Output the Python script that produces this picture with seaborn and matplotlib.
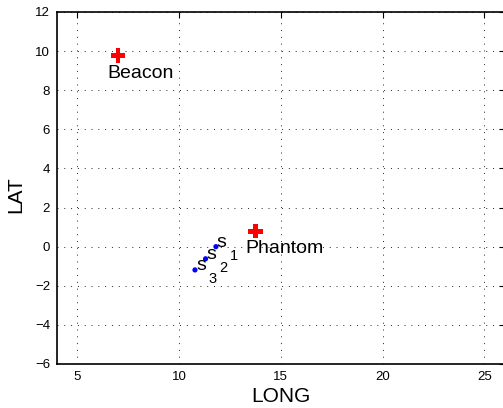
import matplotlib
matplotlib.use("Agg")
import matplotlib.pyplot as plt
import seaborn as sns
import pandas as pd

# Data
landmark_names = ["Beacon", "Phantom"]
landmark_long = [7.0, 13.75]
landmark_lat = [9.77, 0.79]

sensor_ids = ["1", "2", "3"]
sensor_long = [11.81, 11.30, 10.78]
sensor_lat = [0.0, -0.62, -1.19]

x_ticks = [5, 10, 15, 20, 25]
y_ticks = [-6, -4, -2, 0, 2, 4, 6, 8, 10, 12]

sns.set_theme(style="white")
plt.rcParams['font.family'] = ['Liberation Sans', 'DejaVu Sans']
plt.rcParams['text.color'] = 'black'
plt.rcParams['axes.labelcolor'] = 'black'
plt.rcParams['xtick.color'] = 'black'
plt.rcParams['ytick.color'] = 'black'

landmarks = pd.DataFrame({"name": landmark_names, "LONG": landmark_long, "LAT": landmark_lat})
sensors = pd.DataFrame({"id": sensor_ids, "LONG": sensor_long, "LAT": sensor_lat})

fig = plt.figure(figsize=(5.03, 4.08), dpi=100)
ax = fig.add_axes([57/503, 44/408, 447.7/503, 352/408])

sns.scatterplot(data=sensors, x="LONG", y="LAT", ax=ax, color="#0000ff",
                s=14, edgecolor="none", zorder=3)
sns.scatterplot(data=landmarks, x="LONG", y="LAT", ax=ax, color="#ff0000",
                marker="P", s=105, edgecolor="none", zorder=3)

for _, r in landmarks.iterrows():
    ax.text(r["LONG"] - 0.5, r["LAT"] - 0.9, r["name"], fontsize=14,
            ha="left", va="center", color="black")

for _, r in sensors.iterrows():
    ax.annotate("s", (r["LONG"], r["LAT"]), xytext=(0.7, 0), textcoords="offset points",
                fontsize=14, ha="left", va="baseline", color="black")
    ax.annotate(r["id"], (r["LONG"], r["LAT"]), xytext=(10, -9.5), textcoords="offset points",
                fontsize=10.5, ha="left", va="baseline", color="black")

ax.set_xlim(4, 26)
ax.set_ylim(-6, 12)
ax.set_xticks(x_ticks)
ax.set_yticks(y_ticks)
ax.set_xticklabels([str(t) for t in x_ticks])
ax.set_yticklabels([str(t).replace("-", "\u2212") for t in y_ticks])
ax.grid(True, linestyle=(0, (1, 6)), linewidth=0.7, color="#222222")
ax.tick_params(direction="in", length=4, width=0.8, labelsize=9.5, colors="black",
               top=True, right=True, pad=5)
for sp in ax.spines.values():
    sp.set_visible(True)
    sp.set_color("black")
    sp.set_linewidth(1.2)

ax.set_xlabel("LONG", fontsize=15, labelpad=3, color="black")
ax.set_ylabel("LAT", fontsize=15, color="black")
ax.yaxis.set_label_coords(-0.0715, 0.48)

fig.savefig("out.png", dpi=100)
